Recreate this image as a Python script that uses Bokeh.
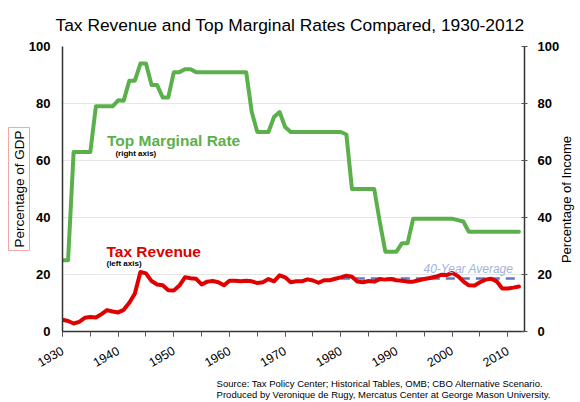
import math
from bokeh.plotting import figure
from bokeh.models import (Range1d, LinearAxis, SingleIntervalTicker, FixedTicker, Label, Title)
from bokeh.embed import file_html
from bokeh.resources import INLINE

# ---------------- data ----------------
years = list(range(1930, 2013))

top_marginal_rate = (
    [25, 25, 63, 63, 63, 63, 79, 79, 79, 79,          # 1930-1939
     81.1, 81, 88, 88, 94, 94, 86.45, 86.45, 82.13, 82.13,  # 1940-1949
     91, 91, 92, 92, 91, 91, 91, 91, 91, 91,          # 1950-1959
     91, 91, 91, 91, 77, 70, 70, 70, 75.25, 77,       # 1960-1969
     71.75, 70, 70, 70, 70, 70, 70, 70, 70, 70,       # 1970-1979
     70, 69.13, 50, 50, 50, 50, 50, 38.5, 28, 28,     # 1980-1989
     28, 31, 31, 39.6, 39.6, 39.6, 39.6, 39.6, 39.6, 39.6,  # 1990-1999
     39.6, 39.1, 38.6, 35, 35, 35, 35, 35, 35, 35,    # 2000-2009
     35, 35, 35]                                      # 2010-2012
)

tax_revenue = (
    [4.1, 3.7, 2.8, 3.4, 4.8, 5.1, 4.9, 6.1, 7.5, 7.0,       # 1930-1939
     6.7, 7.6, 10.1, 13.3, 20.9, 20.4, 17.7, 16.5, 16.2, 14.5,  # 1940-1949
     14.4, 16.1, 19.0, 18.7, 18.5, 16.5, 17.5, 17.7, 17.3, 16.2,  # 1950-1959
     17.8, 17.8, 17.6, 17.8, 17.6, 17.0, 17.3, 18.4, 17.6, 19.7,  # 1960-1969
     19.0, 17.3, 17.6, 17.6, 18.3, 17.9, 17.1, 18.0, 18.0, 18.5,  # 1970-1979
     19.0, 19.6, 19.2, 17.5, 17.3, 17.7, 17.5, 18.4, 18.2, 18.4,  # 1980-1989
     18.0, 17.8, 17.5, 17.5, 18.0, 18.4, 18.8, 19.2, 19.9, 19.8,  # 1990-1999
     20.6, 19.5, 17.6, 16.2, 16.1, 17.3, 18.2, 18.5, 17.6, 15.1,  # 2000-2009
     15.1, 15.4, 15.8]                                            # 2010-2012
)

avg_years = [1980, 2012]
avg_value = [18.6, 18.6]

y_ticks = [0, 20, 40, 60, 80, 100]

GREEN = "#5cb04c"
RED = "#e00000"
BLUE = "#5a7dc2"
FONT = "Liberation Sans"

# ---------------- figure ----------------
p = figure(x_range=Range1d(1930, 2013), y_range=Range1d(0, 100),
           frame_width=462, frame_height=285,
           min_border_left=62, min_border_right=56,
           min_border_top=46, min_border_bottom=62,
           output_backend="svg", toolbar_location=None,
           background_fill_color="white", border_fill_color="white")
p.outline_line_color = None
p.extra_y_ranges = {"right": Range1d(0, 100)}

# x axis
xa = p.xaxis[0]
xa.ticker = SingleIntervalTicker(interval=10, num_minor_ticks=2)
xa.major_tick_in = 0
xa.major_tick_out = 5
xa.minor_tick_in = 0
xa.minor_tick_out = 5
xa.major_tick_line_color = "#555555"
xa.minor_tick_line_color = "#555555"
xa.axis_line_color = "#333333"
xa.axis_line_width = 1.5
xa.major_label_orientation = math.pi / 6
xa.major_label_text_font = FONT
xa.major_label_text_font_size = "12.5px"
xa.major_label_text_color = "black"
xa.major_label_standoff = 13

# left y axis
ya = p.yaxis[0]
ya.ticker = FixedTicker(ticks=y_ticks)
ya.major_tick_in = 0
ya.major_tick_out = 0
ya.minor_tick_line_color = None
ya.axis_line_color = "#333333"
ya.axis_line_width = 1.5
ya.major_label_text_font = FONT
ya.major_label_text_font_size = "13px"
ya.major_label_text_font_style = "bold"
ya.major_label_text_color = "black"
ya.major_label_standoff = 12

# right y axis (ticks and numbers)
ra = LinearAxis(y_range_name="right", ticker=FixedTicker(ticks=y_ticks))
ra.major_tick_in = 3
ra.major_tick_out = 3
ra.major_tick_line_color = "#555555"
ra.minor_tick_line_color = None
ra.axis_line_color = "#333333"
ra.axis_line_width = 1.5
ra.major_label_text_font = FONT
ra.major_label_text_font_size = "13px"
ra.major_label_text_font_style = "bold"
ra.major_label_text_color = "black"
ra.major_label_standoff = 10
p.add_layout(ra, "right")

# second right axis whose single rotated tick label is the title
# "Percentage of Income", reading bottom-to-top as in the reference
income_label_at = 24
ra2 = LinearAxis(y_range_name="right", ticker=FixedTicker(ticks=[income_label_at]))
ra2.axis_line_color = None
ra2.major_tick_line_color = None
ra2.minor_tick_line_color = None
ra2.major_tick_in = 0
ra2.major_tick_out = 0
ra2.minor_tick_in = 0
ra2.minor_tick_out = 0
ra2.major_label_overrides = {income_label_at: "Percentage of Income"}
ra2.major_label_orientation = math.pi / 2
ra2.major_label_text_font = FONT
ra2.major_label_text_font_size = "13px"
ra2.major_label_text_font_style = "normal"
ra2.major_label_text_color = "black"
ra2.major_label_standoff = 4
p.add_layout(ra2, "right")

p.xgrid.visible = False
p.ygrid.ticker = FixedTicker(ticks=y_ticks)
p.ygrid.grid_line_color = "#e6e6e6"
p.ygrid.grid_line_width = 1

# ---------------- lines ----------------
p.line(years, top_marginal_rate, y_range_name="right", line_color=GREEN,
       line_width=4, line_join="round", line_cap="round")
p.line(avg_years, avg_value, line_color=BLUE, line_width=2.5, line_dash="9 6")
p.line(years, tax_revenue, line_color=RED, line_width=4,
       line_join="round", line_cap="round")

# ---------------- annotations (data space) ----------------
p.add_layout(Label(x=1938.0, y=67.1, text="Top Marginal Rate", text_font=FONT,
                   text_font_size="15.5px", text_font_style="bold", text_color=GREEN,
                   text_baseline="alphabetic"))
p.add_layout(Label(x=1939.5, y=62.6, text="(right axis)", text_font=FONT,
                   text_font_size="8px", text_font_style="bold", text_color="black",
                   text_baseline="alphabetic"))
p.add_layout(Label(x=1937.9, y=28.1, text="Tax Revenue", text_font=FONT,
                   text_font_size="15.5px", text_font_style="bold", text_color=RED,
                   text_baseline="alphabetic"))
p.add_layout(Label(x=1937.9, y=24.0, text="(left axis)", text_font=FONT,
                   text_font_size="8px", text_font_style="bold", text_color="black",
                   text_baseline="alphabetic"))
p.add_layout(Label(x=2011.0, y=21.9, text="40-Year Average", text_font=FONT,
                   text_font_size="12px", text_font_style="italic", text_color="#9fb3dc",
                   text_align="right", text_baseline="alphabetic"))

# ---------------- titles in side panels ----------------
p.add_layout(Title(text="Tax Revenue and Top Marginal Rates Compared, 1930-2012",
                   align="left", offset=-7, vertical_align="top", standoff=20,
                   text_font=FONT, text_font_size="17.4px", text_font_style="normal",
                   text_color="black"), "above")

gdp_kwargs = dict(text="Percentage of GDP", align="center",
                  text_font=FONT, text_font_size="13.5px", text_font_style="normal",
                  text_color="black", border_line_color="#f2a6a6", border_line_width=1,
                  background_fill_color="white", padding=3)
try:
    gdp_title = Title(standoff=-8, **gdp_kwargs)
except Exception:
    gdp_title = Title(standoff=0, **gdp_kwargs)
p.add_layout(gdp_title, "left")

p.add_layout(Title(text="Source: Tax Policy Center; Historical Tables, OMB; CBO Alternative Scenario.\n"
                        "Produced by Veronique de Rugy, Mercatus Center at George Mason University.",
                   align="right", offset=-26, vertical_align="bottom", standoff=2,
                   text_line_height=1.05,
                   text_font=FONT, text_font_size="9.5px", text_font_style="normal",
                   text_color="black"), "below")

open("out.html", "w").write(file_html(p, INLINE))
